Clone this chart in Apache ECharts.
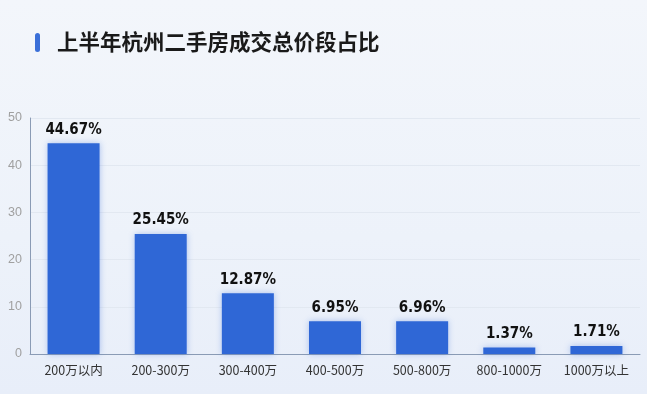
<!DOCTYPE html>
<html><head><meta charset="utf-8">
<script src="https://cdn.jsdelivr.net/npm/echarts@6/dist/echarts.min.js"></script>
<style>html,body{margin:0;padding:0;}#c{width:647px;height:394px;background:linear-gradient(180deg,#f3f6fb 0%,#edf2fa 60%,#e8eef9 100%);}</style>
</head><body><div id="c"></div>
<script>
const title = '上半年杭州二手房成交总价段占比';
const categories = ['200万以内','200-300万','300-400万','400-500万','500-800万','800-1000万','1000万以上'];
const values = [44.67, 25.45, 12.87, 6.95, 6.96, 1.37, 1.71];
const yTicks = [0, 10, 20, 30, 40, 50];

const chart = echarts.init(document.getElementById('c'), null, {renderer:'canvas'});
chart.setOption({
  backgroundColor: 'transparent',
  graphic: [
    {type:'rect', left:35, top:33, shape:{width:5, height:19, r:2.5}, style:{fill:'#3a6fd8'}},
    {type:'text', left:57, top:31, style:{text:title, font:'bold 21.5px "Noto Sans CJK SC"', fill:'#1a1a1a'}}
  ],
  grid: {left:30, right:7, top:118, bottom:40},
  xAxis: {
    type:'category', data:categories,
    axisLine:{lineStyle:{color:'#8a9bb5', width:1}},
    axisTick:{show:false},
    axisLabel:{color:'#333', fontSize:12.5, margin:10, fontFamily:'"Noto Sans CJK SC"'}
  },
  yAxis: {
    type:'value', min:yTicks[0], max:yTicks[yTicks.length-1], interval:10,
    axisLine:{show:true, lineStyle:{color:'#8a9bb5'}},
    axisTick:{show:false},
    axisLabel:{color:'#a0a0a0', fontSize:12.5, margin:8},
    splitLine:{lineStyle:{color:'#e2e8f1'}}
  },
  series: [{
    type:'bar', data:values, barWidth:52,
    itemStyle:{color:'#2f67d6', shadowColor:'rgba(47,103,214,0.35)', shadowBlur:6},
    label:{show:true, position:'top', distance:6, formatter:p=>p.value.toFixed(2)+'%',
      fontSize:15, fontWeight:'bold', color:'#111', fontFamily:'"DejaVu Sans Condensed"'}
  }]
});
</script></body></html>
